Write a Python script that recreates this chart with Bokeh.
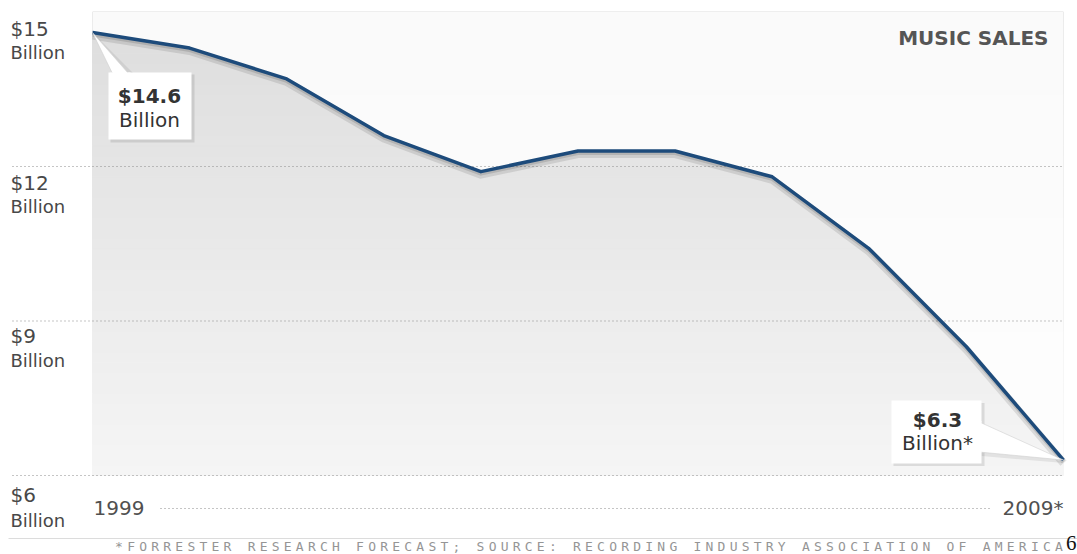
import numpy as np
from bokeh.plotting import figure
from bokeh.models import Range1d
from bokeh.core.properties import value
from bokeh.embed import file_html
from bokeh.resources import INLINE

# ---------------- data ----------------
years = [1999, 2000, 2001, 2002, 2003, 2004, 2005, 2006, 2007, 2008, 2009]
sales = [14.6, 14.3, 13.7, 12.6, 11.9, 12.3, 12.3, 11.8, 10.4, 8.5, 6.3]
y_ticks = [15, 12, 9, 6]
y_tick_labels = ["$15", "$12", "$9", "$6"]
y_unit_label = "Billion"
x_end_labels = ["1999", "2009*"]
first_callout = ["$14.6", "Billion"]
last_callout = ["$6.3", "Billion*"]
title = "MUSIC SALES"
footnote = "*FORRESTER RESEARCH FORECAST; SOURCE: RECORDING INDUSTRY ASSOCIATION OF AMERICA"
page_no = "6"

# ---------------- layout ----------------
W, H = 1077, 554
XS = 97.1      # px per year
YS = 51.5      # px per billion
LEFT_PX = 92   # canvas px of first year
REF_PX = 166   # canvas px of the second tick (12)
x0 = years[0] - LEFT_PX / XS
x1 = x0 + W / XS
yt = y_ticks[1] + REF_PX / YS
yb = yt - H / YS
BASE_K = 0.4   # baseline compensation (fraction of font size)


def X(a, dx):
    return a + dx / XS


def Y(a, dy):  # dy > 0 moves down
    return a - dy / YS


def TY(a, dy, size):  # text baseline position
    return Y(a, dy - BASE_K * size)


p = figure(width=W, height=H, x_range=Range1d(x0, x1), y_range=Range1d(yb, yt),
           toolbar_location=None, output_backend="svg", min_border=0,
           x_axis_type=None, y_axis_type=None,
           background_fill_color="white", border_fill_color="white",
           outline_line_color=None)
p.grid.visible = False

FONT = value("DejaVu Sans")

# gradient background of the plot area
n = 45
lev = np.linspace(y_ticks[-1], y_ticks[0], n + 1)
mids = (lev[:-1] + lev[1:]) / 2
t = (mids - y_ticks[-1]) / (y_ticks[0] - y_ticks[-1])
cols = ["#%02x%02x%02x" % (g, g, g) for g in np.round(245 - 24 * t).astype(int)]
p.quad(left=years[0], right=years[-1], bottom=lev[:-1], top=lev[1:],
       fill_color=cols, line_color=cols, line_width=1)

# lighter region above the line
p.varea(x=years, y1=sales, y2=y_ticks[0], fill_color="white", fill_alpha=0.84)

# dotted gridlines
gy = y_ticks[1:]
p.segment(x0=X(x0, 12), x1=years[-1], y0=gy, y1=gy,
          line_color="#8a8a8a", line_dash="1 3", line_width=1)

# bottom dotted line between year labels
by = Y(y_ticks[-1], 33)
p.segment(x0=[X(years[0], 68)], x1=[X(years[-1], -73)], y0=[by], y1=[by],
          line_color="#8a8a8a", line_dash="1 3", line_width=1)

# separator line
sy = Y(y_ticks[-1], 63)
p.segment(x0=[X(x0, 8)], x1=[x1], y0=[sy], y1=[sy], line_color="#dcdcdc", line_width=1)

# line shadow and line
p.line(years, [s - 3 / YS for s in sales], line_color="black", line_alpha=0.10,
       line_width=8, line_join="round")
p.line(years, [s - 2 / YS for s in sales], line_color="black", line_alpha=0.12,
       line_width=4, line_join="round")
p.line(years, sales, line_color="#1d4b7b", line_width=3.5, line_join="round")

# ---------- first callout ----------
a, s = years[0], sales[0]
p.patch([X(a, 3), X(a, 22), X(a, 42)], [Y(s, 3), Y(s, 42), Y(s, 42)],
        fill_color="black", fill_alpha=0.07, line_color=None)
p.quad(left=[X(a, 18)], right=[X(a, 102)], top=[Y(s, 42)], bottom=[Y(s, 110)],
       fill_color="black", fill_alpha=0.10, line_color=None)
p.quad(left=[X(a, 16)], right=[X(a, 99)], top=[Y(s, 40)], bottom=[Y(s, 107)],
       fill_color="white", line_color=None)
p.patch([a, X(a, 20), X(a, 36)], [s, Y(s, 41), Y(s, 41)],
        fill_color="white", line_color="#d0d0d0", line_width=0.6)
p.quad(left=[X(a, 18)], right=[X(a, 38)], top=[Y(s, 40)], bottom=[Y(s, 43)],
       fill_color="white", line_color=None)
p.text(x=[X(a, 57)], y=[TY(s, 71, 20)], text=[first_callout[0]], text_font=FONT,
       text_font_style="bold", text_font_size="20px", text_color="#333333",
       text_align="center", text_baseline="alphabetic")
p.text(x=[X(a, 57)], y=[TY(s, 95, 20)], text=[first_callout[1]], text_font=FONT,
       text_font_size="20px", text_color="#333333",
       text_align="center", text_baseline="alphabetic")

# ---------- last callout ----------
a, s = years[-1], sales[-1]
p.patch([X(a, -82), X(a, -82), X(a, 0)], [Y(s, -36), Y(s, -4), Y(s, 3)],
        fill_color="black", fill_alpha=0.07, line_color=None)
p.quad(left=[X(a, -170)], right=[X(a, -79)], top=[Y(s, -57)], bottom=[Y(s, 6)],
       fill_color="black", fill_alpha=0.10, line_color=None)
p.quad(left=[X(a, -172)], right=[X(a, -82)], top=[Y(s, -59.5)], bottom=[Y(s, 3.5)],
       fill_color="white", line_color=None)
p.patch([X(a, -84), X(a, -84), a], [Y(s, -38), Y(s, -8), s],
        fill_color="white", line_color="#d0d0d0", line_width=0.6)
p.quad(left=[X(a, -86)], right=[X(a, -82)], top=[Y(s, -39)], bottom=[Y(s, -7)],
       fill_color="white", line_color=None)
p.text(x=[X(a, -126)], y=[TY(s, -32, 20)], text=[last_callout[0]], text_font=FONT,
       text_font_style="bold", text_font_size="20px", text_color="#333333",
       text_align="center", text_baseline="alphabetic")
p.text(x=[X(a, -126)], y=[TY(s, -9, 20)], text=[last_callout[1]], text_font=FONT,
       text_font_size="20px", text_color="#333333",
       text_align="center", text_baseline="alphabetic")

# ---------- y labels ----------
num_dy = [25, 24, 23, 27]
unit_dy = [48, 47, 47, 52]
p.text(x=[X(x0, 10)] * len(y_ticks), y=[TY(v, d, 20) for v, d in zip(y_ticks, num_dy)],
       text=y_tick_labels, text_font=FONT, text_font_size="20px",
       text_color="#484848", text_align="left", text_baseline="alphabetic")
p.text(x=[X(x0, 10)] * len(y_ticks), y=[TY(v, d, 18) for v, d in zip(y_ticks, unit_dy)],
       text=[y_unit_label] * len(y_ticks), text_font=FONT, text_font_size="18px",
       text_color="#484848", text_align="left", text_baseline="alphabetic")

# ---------- x end labels ----------
p.text(x=[X(years[0], 1)], y=[TY(y_ticks[-1], 40, 20)], text=[x_end_labels[0]],
       text_font=FONT, text_font_size="20px", text_color="#505050",
       text_align="left", text_baseline="alphabetic")
p.text(x=[years[-1]], y=[TY(y_ticks[-1], 40, 20)], text=[x_end_labels[1]],
       text_font=FONT, text_font_size="20px", text_color="#505050",
       text_align="right", text_baseline="alphabetic")

# ---------- title ----------
p.text(x=[X(years[-1], -15)], y=[TY(y_ticks[0], 33.5, 20)], text=[title],
       text_font=FONT, text_font_style="bold", text_font_size="20px",
       text_color="#555555", text_align="right", text_baseline="alphabetic")

# ---------- footnote (letter-spaced) ----------
chars = [(i, c) for i, c in enumerate(footnote) if c != " "]
fy = TY(yt, 551, 13)
p.text(x=[X(x0, 114 + 4.5 + i * 12.05) for i, _ in chars],
       y=[fy] * len(chars), text=[c for _, c in chars],
       text_font=value("DejaVu Sans Mono"), text_font_size="13px",
       text_color="#959595", text_align="center", text_baseline="alphabetic")

# page number
p.text(x=[X(x1, -1)], y=[TY(yt, 551, 21)], text=[page_no], text_font=value("Liberation Serif"),
       text_font_size="21px", text_color="#111111", text_align="right",
       text_baseline="alphabetic")

open("out.html", "w").write(file_html(p, INLINE))
